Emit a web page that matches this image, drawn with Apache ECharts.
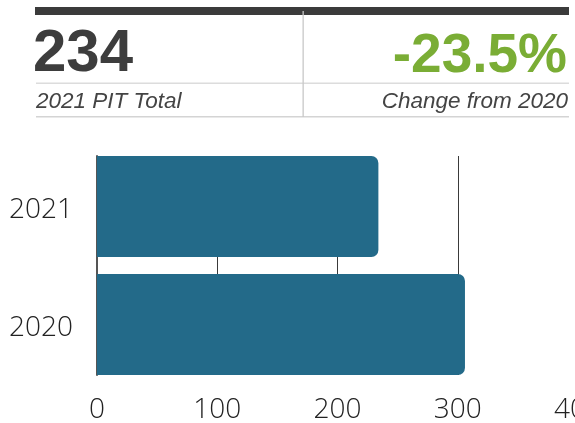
<!DOCTYPE html>
<html>
<head>
<meta charset="utf-8">
<script src="https://cdn.jsdelivr.net/npm/echarts@6/dist/echarts.min.js"></script>
<style>
html,body{margin:0;padding:0;background:#fff;}
#c{width:575px;height:423px;}
</style>
</head>
<body>
<div id="c"></div>
<script>
// ---- data ----
var categories = ['2021', '2020'];
var pitValues = [234, 306];
var xTicks = [0, 100, 200, 300, 400];
var totalLabel = '2021 PIT Total';
var changeLabel = 'Change from 2020';

var total = pitValues[0];
var changePct = (pitValues[0] - pitValues[1]) / pitValues[1] * 100;
var changeText = (changePct < 0 ? '-' : '+') + Math.abs(changePct).toFixed(1) + '%';

var chart = echarts.init(document.getElementById('c'), null, {renderer: 'canvas'});
var lightFont = "'Open Sans', 'Noto Sans', sans-serif";

var option = {
  animation: false,
  backgroundColor: '#ffffff',
  grid: [
    {left: 97, width: 481, top: 147.5, height: 236, z: 5, containLabel: false, outerBoundsMode: 'none'},
    {left: 97, width: 481, top: 156, height: 219, z: 1, containLabel: false, outerBoundsMode: 'none'}
  ],
  xAxis: [
    {
      gridIndex: 0, type: 'value', min: xTicks[0], max: xTicks[xTicks.length - 1], interval: 100,
      axisLine: {show: false}, axisTick: {show: false}, splitLine: {show: false},
      axisLabel: {
        show: true, fontSize: 28, color: '#222', fontFamily: lightFont, fontWeight: 300,
        margin: 13, showMaxLabel: true, hideOverlap: false
      }
    },
    {
      gridIndex: 1, type: 'value', min: xTicks[0], max: xTicks[xTicks.length - 1], interval: 100,
      axisLine: {show: false}, axisTick: {show: false}, axisLabel: {show: false},
      splitLine: {show: true, lineStyle: {color: '#3a3a3a', width: 1}}
    }
  ],
  yAxis: [
    {
      gridIndex: 0, type: 'category', data: categories, inverse: true,
      axisLine: {show: false}, axisTick: {show: false}, splitLine: {show: false},
      axisLabel: {
        margin: 24,
        formatter: function (v) { return '{a|' + v + '}'; },
        rich: {a: {fontSize: 28, color: '#222', fontFamily: lightFont, fontWeight: 300,
          lineHeight: 30, padding: [8, 0, 0, 0]}}
      }
    },
    {
      gridIndex: 1, type: 'value', min: 0, max: 1,
      axisLine: {show: true, lineStyle: {color: '#555', width: 2}},
      axisTick: {show: false}, axisLabel: {show: false}, splitLine: {show: false}
    }
  ],
  series: [
    {
      type: 'bar', xAxisIndex: 0, yAxisIndex: 0, z: 10,
      data: pitValues, barWidth: 101,
      itemStyle: {color: '#236a89', borderRadius: [0, 7, 7, 0]}
    }
  ],
  graphic: [
    {type: 'rect', shape: {x: 35, y: 7, width: 534, height: 8}, style: {fill: '#3b3b3b'}},
    {type: 'rect', shape: {x: 36, y: 82.5, width: 533, height: 1.5}, style: {fill: '#dcdcdc'}},
    {type: 'rect', shape: {x: 36, y: 116, width: 533, height: 1.5}, style: {fill: '#d4d4d4'}},
    {type: 'rect', shape: {x: 302.5, y: 11, width: 1.3, height: 106}, style: {fill: '#c8c8c8'}},
    {type: 'text', style: {
      text: String(total), x: 33, y: 54, font: "bold 60px 'Liberation Sans', Arial, sans-serif",
      fill: '#3d3d3d', textAlign: 'left', align: 'left', textVerticalAlign: 'middle', verticalAlign: 'middle'
    }},
    {type: 'text', style: {
      text: changeText, x: 567, y: 56.5, font: "bold 55px 'Liberation Sans', Arial, sans-serif",
      fill: '#7aad35', textAlign: 'right', align: 'right', textVerticalAlign: 'middle', verticalAlign: 'middle'
    }},
    {type: 'text', style: {
      text: totalLabel, x: 36, y: 101.5, font: "italic 22.5px 'Liberation Sans', Arial, sans-serif",
      fill: '#444', textAlign: 'left', align: 'left', textVerticalAlign: 'middle', verticalAlign: 'middle'
    }},
    {type: 'text', style: {
      text: changeLabel, x: 568, y: 102, font: "italic 22.5px 'Liberation Sans', Arial, sans-serif",
      fill: '#444', textAlign: 'right', align: 'right', textVerticalAlign: 'middle', verticalAlign: 'middle'
    }}
  ]
};
chart.setOption(option);
</script>
</body>
</html>
